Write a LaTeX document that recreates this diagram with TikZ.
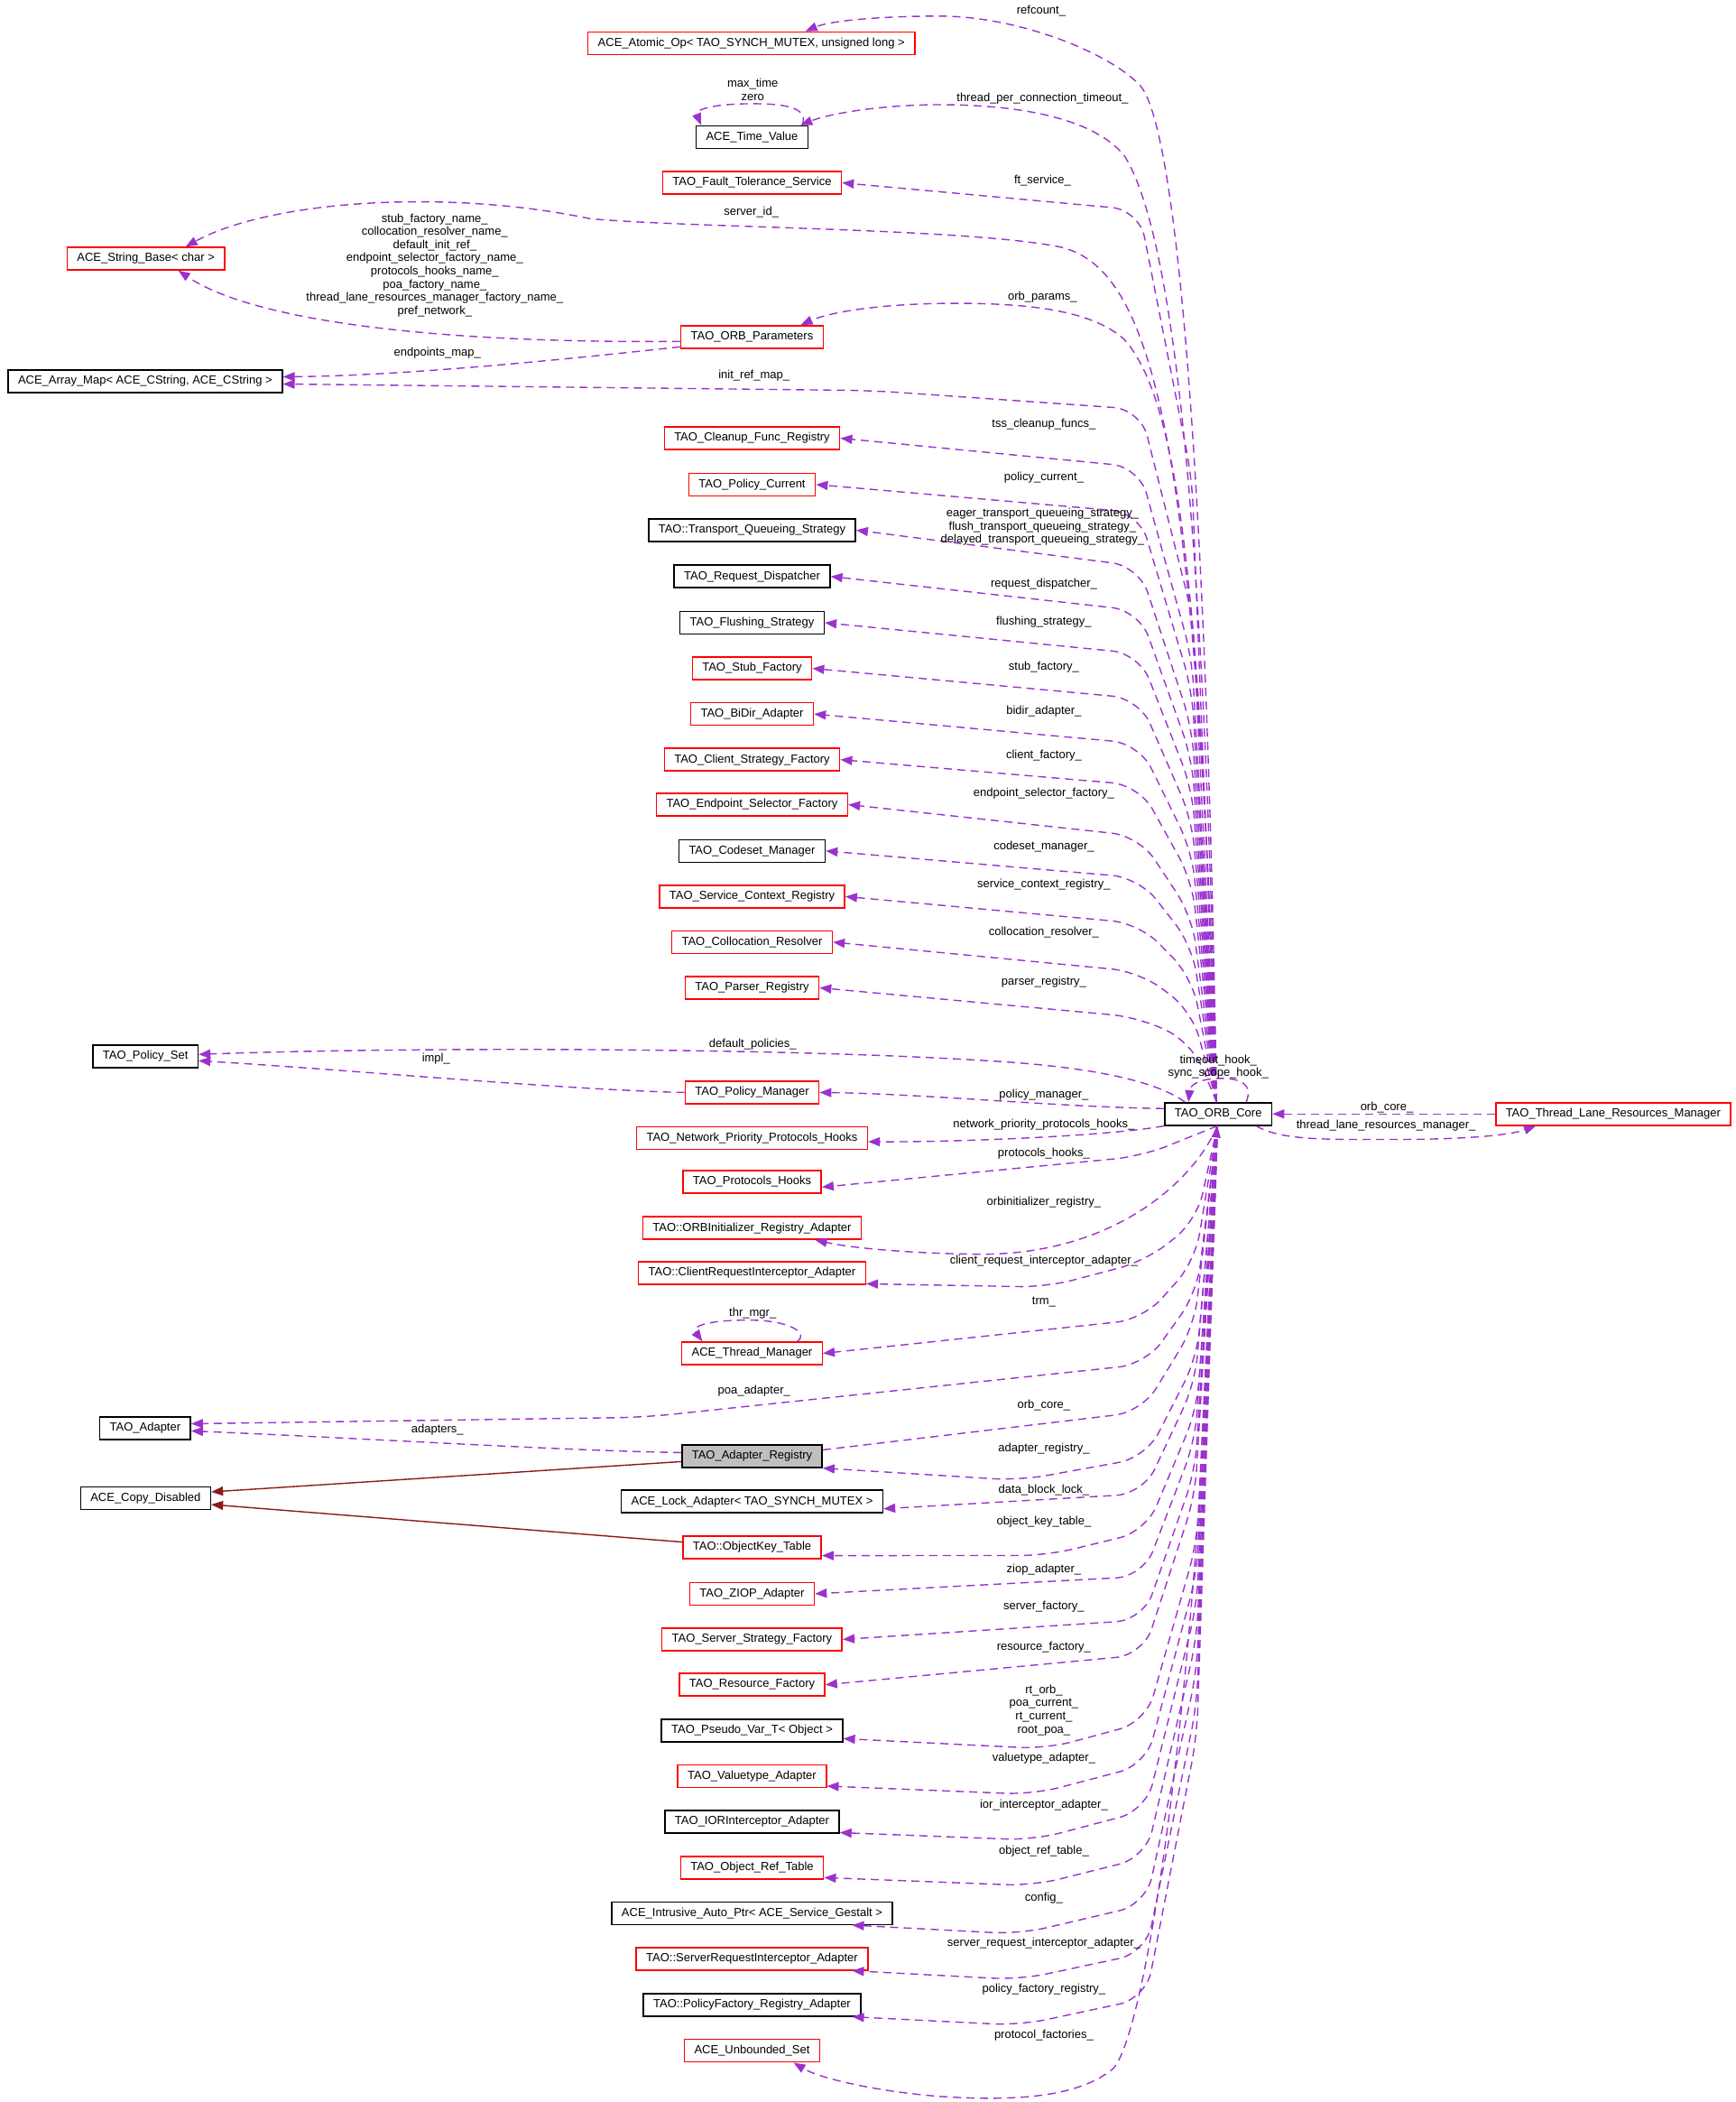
\documentclass[tikz,border=0pt]{standalone}
\usepackage{fontspec}
\setmainfont{Liberation Sans}
\usetikzlibrary{arrows.meta}
\usetikzlibrary{calc}

\definecolor{memberpurple}{HTML}{9A32CD}
\definecolor{inheritred}{HTML}{8B1A1A}
\definecolor{focusgray}{HTML}{BFBFBF}

\begin{document}
\begin{tikzpicture}[x=1.487pt,y=1.487pt,
    cls/.style={draw=black, line width=1.5pt, fill=white, minimum height=25pt, inner xsep=11pt, inner ysep=0pt, font=\fontsize{13pt}{15pt}\selectfont},
    redcls/.style={cls, draw=red},
    focuscls/.style={cls, fill=focusgray},
    lbl/.style={inner sep=0pt, align=center, font=\fontsize{13pt}{14.6pt}\selectfont},
    member/.style={draw=memberpurple, line width=1.4pt, dash pattern=on 9pt off 6pt, -{Triangle[length=13pt,width=10pt]}},
    inherit/.style={draw=inheritred, line width=1.4pt, -{Triangle[length=13pt,width=10pt]}}]

    \useasboundingbox (0,0) rectangle (1293.2,-1566.2);

    \node[redcls] (atomic) at (560,-32.2) {ACE\_Atomic\_Op< TAO\_SYNCH\_MUTEX, unsigned long >};
    \node[cls] (timevalue) at (560.5,-102.1) {ACE\_Time\_Value};
    \node[redcls] (ftservice) at (560.5,-136.2) {TAO\_Fault\_Tolerance\_Service};
    \node[redcls] (strbase) at (108.7,-192.7) {ACE\_String\_Base< char >};
    \node[redcls] (orbparams) at (560.5,-251) {TAO\_ORB\_Parameters};
    \node[cls] (arraymap) at (108.2,-284.1) {ACE\_Array\_Map< ACE\_CString, ACE\_CString >};
    \node[redcls] (cleanup) at (560.5,-326.5) {TAO\_Cleanup\_Func\_Registry};
    \node[redcls] (policycur) at (560.5,-361) {TAO\_Policy\_Current};
    \node[cls] (tqs) at (560.5,-395) {TAO::Transport\_Queueing\_Strategy};
    \node[cls] (reqdisp) at (560.5,-429.5) {TAO\_Request\_Dispatcher};
    \node[cls] (flushing) at (560.5,-464) {TAO\_Flushing\_Strategy};
    \node[redcls] (stubfac) at (560.5,-498) {TAO\_Stub\_Factory};
    \node[redcls] (bidir) at (560.5,-532) {TAO\_BiDir\_Adapter};
    \node[redcls] (clientfac) at (560.5,-566) {TAO\_Client\_Strategy\_Factory};
    \node[redcls] (epsel) at (560.5,-599.5) {TAO\_Endpoint\_Selector\_Factory};
    \node[cls] (codeset) at (560.5,-634) {TAO\_Codeset\_Manager};
    \node[redcls] (svcctx) at (560.5,-668) {TAO\_Service\_Context\_Registry};
    \node[redcls] (colloc) at (560.5,-702) {TAO\_Collocation\_Resolver};
    \node[redcls] (parser) at (560.5,-736) {TAO\_Parser\_Registry};
    \node[cls] (policyset) at (108.4,-787) {TAO\_Policy\_Set};
    \node[redcls] (policymgr) at (560.5,-814) {TAO\_Policy\_Manager};
    \node[cls] (core) at (908,-830) {TAO\_ORB\_Core};
    \node[redcls] (tlrm) at (1202.3,-830) {TAO\_Thread\_Lane\_Resources\_Manager};
    \node[redcls] (netprio) at (560.5,-848) {TAO\_Network\_Priority\_Protocols\_Hooks};
    \node[redcls] (prothooks) at (560.5,-880.5) {TAO\_Protocols\_Hooks};
    \node[redcls] (orbinit) at (560.5,-915) {TAO::ORBInitializer\_Registry\_Adapter};
    \node[redcls] (clientreq) at (560.5,-948.5) {TAO::ClientRequestInterceptor\_Adapter};
    \node[redcls] (thrmgr) at (560.5,-1008.4) {ACE\_Thread\_Manager};
    \node[cls] (adapter) at (108.2,-1064.2) {TAO\_Adapter};
    \node[focuscls] (adapterreg) at (560.5,-1085) {TAO\_Adapter\_Registry};
    \node[cls] (copydis) at (108.5,-1116.3) {ACE\_Copy\_Disabled};
    \node[cls] (lockadapter) at (560.5,-1118.8) {ACE\_Lock\_Adapter< TAO\_SYNCH\_MUTEX >};
    \node[redcls] (objkey) at (560.5,-1153) {TAO::ObjectKey\_Table};
    \node[redcls] (ziop) at (560.5,-1187.5) {TAO\_ZIOP\_Adapter};
    \node[redcls] (serverfac) at (560.5,-1221.5) {TAO\_Server\_Strategy\_Factory};
    \node[redcls] (resfac) at (560.5,-1255.3) {TAO\_Resource\_Factory};
    \node[cls] (pseudovar) at (560.5,-1289.4) {TAO\_Pseudo\_Var\_T< Object >};
    \node[redcls] (valuetype) at (560.5,-1323.4) {TAO\_Valuetype\_Adapter};
    \node[cls] (iorint) at (560.5,-1357.4) {TAO\_IORInterceptor\_Adapter};
    \node[redcls] (objref) at (560.5,-1391.6) {TAO\_Object\_Ref\_Table};
    \node[cls] (intrusive) at (560.5,-1425.5) {ACE\_Intrusive\_Auto\_Ptr< ACE\_Service\_Gestalt >};
    \node[redcls] (serverreq) at (560.5,-1459.5) {TAO::ServerRequestInterceptor\_Adapter};
    \node[cls] (polfac) at (560.5,-1493.8) {TAO::PolicyFactory\_Registry\_Adapter};
    \node[redcls] (unbounded) at (560.5,-1528) {ACE\_Unbounded\_Set};

    \coordinate (top) at ([xshift=-2pt]core.north);
    \coordinate (bot) at ([xshift=-1pt]core.south);
    \coordinate (clientreq-in) at ([yshift=-12pt]clientreq.east);
    \coordinate (adapter-in) at ([yshift=5pt]adapter.east);
    \coordinate (adapterreg-in) at (adapterreg.south east);
    \coordinate (lock-in) at ([yshift=-8pt]lockadapter.east);
    \coordinate (objkey-in) at ([yshift=-9pt]objkey.east);
    \coordinate (pseudovar-in) at ([yshift=-9pt]pseudovar.east);
    \coordinate (valuetype-in) at ([yshift=-11pt]valuetype.east);
    \coordinate (iorint-in) at ([yshift=-12pt]iorint.east);
    \coordinate (objref-in) at ([yshift=-11pt]objref.east);
    \coordinate (intrusive-in) at ([xshift=111pt]intrusive.south);
    \coordinate (serverreq-in) at ([xshift=111pt]serverreq.south);
    \coordinate (polfac-in) at ([xshift=111pt]polfac.south);

    \foreach \tgt/\cy in {ftservice/156.5, cleanup/348, policycur/382, tqs/422, reqdisp/455, flushing/487, stubfac/520.5, bidir/554, clientfac/585, epsel/623, codeset/654, svcctx/688, colloc/724, parser/758}
      \draw[member, rounded corners=30pt] (top) -- ($(849,-\cy)!0.3!(top)+(22,0)$) -- (849,-\cy) -- (\tgt.east);

    \foreach \tgt/\cy in {thrmgr.east/983, lock-in/1113, ziop.east/1174.6, serverfac.east/1207, resfac.east/1233}
      \draw[member, rounded corners=30pt] (bot) -- ($(852,-\cy)!0.3!(bot)+(22,0)$) -- (852,-\cy) -- (\tgt);

    \foreach \tgt/\cy/\px/\py in {clientreq-in/939.5/780/959, adapter-in/1016.4/480/1056, adapterreg-in/1086/760/1103, objkey-in/1141/780/1159, pseudovar-in/1283/780/1303, valuetype-in/1315/770/1337, iorint-in/1349/770/1371, objref-in/1384/770/1405, intrusive-in/1419/760/1441, serverreq-in/1455/760/1475, polfac-in/1489/760/1509}
      \draw[member, rounded corners=30pt] (bot) -- ($(854,-\cy)!0.3!(bot)+(22,0)$) -- (854,-\cy) -- (\px,-\py) -- (\tgt);

    \draw[member] (top) .. controls (900,-400) and (880,-100) .. (850,-64) .. controls (828,-40) and (760,-12) .. (700,-12) .. controls (660,-12) and (620,-15) .. ([xshift=60pt]atomic.north);
    \draw[member] (top) .. controls (898,-420) and (878,-180) .. (838,-116) .. controls (815,-88) and (760,-78) .. (700,-78) .. controls (660,-78) and (620,-84) .. ([xshift=-9pt]timevalue.north east);
    \draw[member] ([xshift=-7pt]timevalue.north east) .. controls (603,-80) and (585,-77) .. (558,-77.3) .. controls (530,-77.5) and (518,-82) .. ([xshift=6pt]timevalue.north west);
    \draw[member] (top) .. controls (892,-330) and (860,-200) .. (790,-184) .. controls (720,-170) and (520,-170) .. (440,-163) .. controls (330,-140) and (200,-150) .. ([xshift=44pt]strbase.north);
    \draw[member] (top) .. controls (895,-450) and (880,-300) .. (838,-253) .. controls (815,-232) and (770,-226) .. (712,-226) .. controls (660,-226) and (620,-232) .. ([xshift=54pt]orbparams.north);
    \draw[member, rounded corners=30pt] (top) -- ($(850,-305)!0.3!(top)+(22,0)$) -- (850,-305) -- (650,-291) -- ([yshift=-3pt]arraymap.east);
    \draw[member] ([yshift=-5pt]orbparams.west) .. controls (330,-256) and (190,-240) .. ([xshift=36pt]strbase.south);
    \draw[member] ([yshift=-11pt]orbparams.west) .. controls (420,-268) and (300,-280) .. ([yshift=5pt]arraymap.east);

    \draw[member] ([xshift=-37pt]core.north) .. controls (862,-806) and (820,-797) .. (760,-792) .. controls (600,-780) and (300,-780) .. ([yshift=2pt]policyset.east);
    \draw[member] (policymgr.west) .. controls (420,-812) and (260,-797) .. ([yshift=-5pt]policyset.east);
    \draw[member] ([yshift=6pt]core.west) .. controls (790,-825) and (690,-815) .. (policymgr.east);
    \draw[member] ([xshift=31pt]core.north) .. controls (934,-808) and (925,-803.5) .. (910,-803.5) .. controls (895,-803.5) and (887,-808) .. ([xshift=-33pt]core.north);
    \draw[member] (tlrm.west) -- (core.east);
    \draw[member] ([xshift=42pt]core.south) .. controls (955,-850) and (990,-849) .. (1040,-849) .. controls (1090,-849) and (1125,-846) .. ([xshift=45pt]tlrm.south west);

    \draw[member] (core.south west) .. controls (830,-846) and (720,-851) .. ([yshift=-4pt]netprio.east);
    \draw[member, rounded corners=30pt] (bot) -- (851,-861.5) -- ([yshift=-6pt]prothooks.east);
    \draw[member] (bot) .. controls (890,-880) and (830,-935) .. (730,-934.5) .. controls (680,-934) and (635,-930) .. ([xshift=70pt]orbinit.south);
    \draw[member] ([xshift=50pt]thrmgr.north) .. controls (603,-994) and (590,-983.6) .. (558,-983.6) .. controls (528,-983.6) and (515,-988) .. ([xshift=-55pt]thrmgr.north);
    \draw[member, rounded corners=30pt] ([yshift=7pt]adapterreg.east) -- (851,-1052) -- (890,-988) -- (bot);
    \draw[member] ([yshift=4pt]adapterreg.west) .. controls (420,-1081) and (260,-1071) .. ([yshift=-3pt]adapter.east);
    \draw[member] (bot) .. controls (896,-1250) and (855,-1512) .. (830,-1541) .. controls (805,-1562) and (760,-1566) .. (700,-1562) .. controls (650,-1558) and (610,-1548) .. ([xshift=46pt]unbounded.south);

    \draw[inherit] ([yshift=-6pt]adapterreg.west) -- ([yshift=7pt]copydis.east);
    \draw[inherit] ([yshift=6pt]objkey.west) -- ([yshift=-7pt]copydis.east);

    \node[lbl] (l-refcount) at (776,-8) {refcount\_};
    \node[lbl] (l-tpct) at (777,-73.3) {thread\_per\_connection\_timeout\_};
    \node[lbl] (l-timevalue) at (561,-66.7) {max\_time\\zero};
    \node[lbl] (l-ftservice) at (777,-134.5) {ft\_service\_};
    \node[lbl] (l-serverid) at (560,-158) {server\_id\_};
    \node[lbl] (l-strbase) at (324,-197.6) {stub\_factory\_name\_\\collocation\_resolver\_name\_\\default\_init\_ref\_\\endpoint\_selector\_factory\_name\_\\protocols\_hooks\_name\_\\poa\_factory\_name\_\\thread\_lane\_resources\_manager\_factory\_name\_\\pref\_network\_};
    \node[lbl] (l-orbparams) at (777,-221.3) {orb\_params\_};
    \node[lbl] (l-endpoints) at (326,-262.7) {endpoints\_map\_};
    \node[lbl] (l-initref) at (562,-279.8) {init\_ref\_map\_};
    \node[lbl] (l-cleanup) at (778,-316) {tss\_cleanup\_funcs\_};
    \node[lbl] (l-policycur) at (778,-356) {policy\_current\_};
    \node[lbl] (l-tqs) at (777,-392.5) {eager\_transport\_queueing\_strategy\_\\flush\_transport\_queueing\_strategy\_\\delayed\_transport\_queueing\_strategy\_};
    \node[lbl] (l-reqdisp) at (778,-435) {request\_dispatcher\_};
    \node[lbl] (l-flushing) at (778,-463.1) {flushing\_strategy\_};
    \node[lbl] (l-stubfac) at (778,-497.2) {stub\_factory\_};
    \node[lbl] (l-bidir) at (778,-530.3) {bidir\_adapter\_};
    \node[lbl] (l-clientfac) at (778,-562.8) {client\_factory\_};
    \node[lbl] (l-epsel) at (778,-590.9) {endpoint\_selector\_factory\_};
    \node[lbl] (l-codeset) at (778,-631.2) {codeset\_manager\_};
    \node[lbl] (l-svcctx) at (778,-659) {service\_context\_registry\_};
    \node[lbl] (l-colloc) at (778,-694.8) {collocation\_resolver\_};
    \node[lbl] (l-parser) at (778,-731.6) {parser\_registry\_};
    \node[lbl] (l-default) at (561,-778) {default\_policies\_};
    \node[lbl] (l-impl) at (325,-789) {impl\_};
    \node[lbl] (l-policymgr) at (778,-815.5) {policy\_manager\_};
    \node[lbl] (l-hooks) at (908,-795) {timeout\_hook\_\\sync\_scope\_hook\_};
    \node[lbl] (l-orbcore) at (1033.6,-825) {orb\_core\_};
    \node[lbl] (l-tlrm) at (1033,-838.5) {thread\_lane\_resources\_manager\_};
    \node[lbl] (l-netprio) at (778,-838.2) {network\_priority\_protocols\_hooks\_};
    \node[lbl] (l-prothooks) at (778,-859.8) {protocols\_hooks\_};
    \node[lbl] (l-orbinit) at (778,-895.6) {orbinitializer\_registry\_};
    \node[lbl] (l-clientreq) at (778,-939.5) {client\_request\_interceptor\_adapter\_};
    \node[lbl] (l-thrmgr) at (778,-970) {trm\_};
    \node[lbl] (l-thrloop) at (561,-978.5) {thr\_mgr\_};
    \node[lbl] (l-poa) at (562,-1036.3) {poa\_adapter\_};
    \node[lbl] (l-regcore) at (778,-1046.9) {orb\_core\_};
    \node[lbl] (l-adapters) at (326,-1065.2) {adapters\_};
    \node[lbl] (l-adapterreg) at (778,-1079.4) {adapter\_registry\_};
    \node[lbl] (l-lock) at (778,-1110.1) {data\_block\_lock\_};
    \node[lbl] (l-objkey) at (778,-1134.1) {object\_key\_table\_};
    \node[lbl] (l-ziop) at (778,-1169.7) {ziop\_adapter\_};
    \node[lbl] (l-serverfac) at (778,-1197.1) {server\_factory\_};
    \node[lbl] (l-resfac) at (778,-1227.5) {resource\_factory\_};
    \node[lbl] (l-pseudovar) at (778,-1274.2) {rt\_orb\_\\poa\_current\_\\rt\_current\_\\root\_poa\_};
    \node[lbl] (l-valuetype) at (778,-1310.3) {valuetype\_adapter\_};
    \node[lbl] (l-iorint) at (778,-1344.8) {ior\_interceptor\_adapter\_};
    \node[lbl] (l-objref) at (778,-1379.1) {object\_ref\_table\_};
    \node[lbl] (l-intrusive) at (778,-1414) {config\_};
    \node[lbl] (l-serverreq) at (778,-1447.6) {server\_request\_interceptor\_adapter\_};
    \node[lbl] (l-polfac) at (778,-1482) {policy\_factory\_registry\_};
    \node[lbl] (l-unbounded) at (778,-1516.3) {protocol\_factories\_};
  \end{tikzpicture}
\end{document}
